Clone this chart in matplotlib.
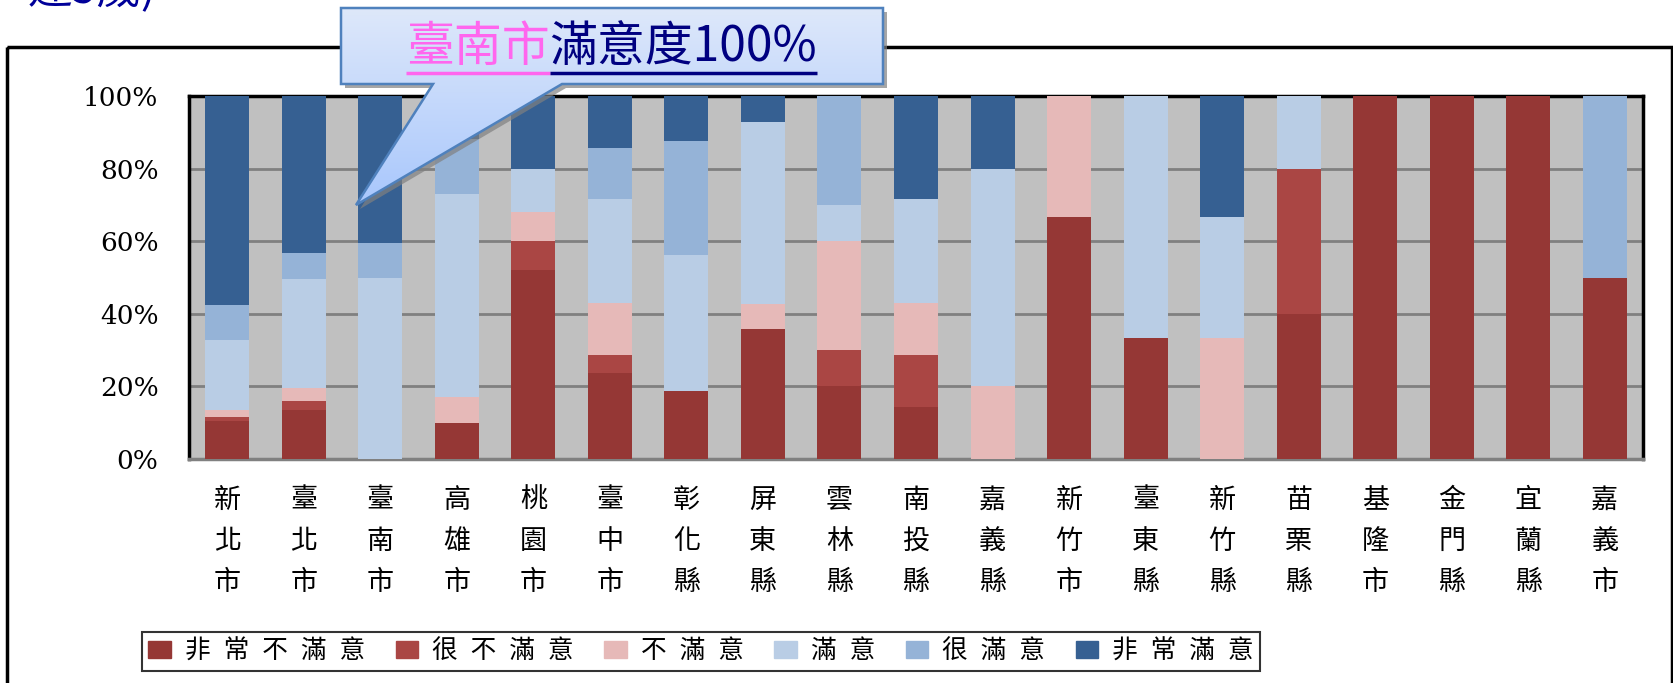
import matplotlib
matplotlib.use('Agg')
from matplotlib import pyplot as plt
from matplotlib.patches import Rectangle, Polygon
import numpy as np

# regions (x axis)
regions = ['新北市', '臺北市', '臺南市', '高雄市', '桃園市', '臺中市', '彰化縣', '屏東縣', '雲林縣',
           '南投縣', '嘉義縣', '新竹市', '臺東縣', '新竹縣', '苗栗縣', '基隆市', '金門縣', '宜蘭縣', '嘉義市']

# percentages per satisfaction level
very_dissatisfied = [10.4, 13.4, 0, 9.9, 52, 23.8, 18.75, 35.7, 20, 14.3, 0, 66.7, 33.3, 0, 40, 100, 100, 100, 50]
quite_dissatisfied = [1.1, 2.5, 0, 0, 8, 4.8, 0, 0, 10, 14.3, 0, 0, 0, 0, 40, 0, 0, 0, 0]
dissatisfied = [1.9, 3.7, 0, 7.1, 8, 14.3, 0, 7.1, 30, 14.3, 20, 33.3, 0, 33.3, 0, 0, 0, 0, 0]
satisfied = [19.3, 30.0, 50, 56.1, 12, 28.6, 37.5, 50, 10, 28.6, 60, 0, 66.7, 33.3, 20, 0, 0, 0, 0]
quite_satisfied = [9.7, 7.2, 9.4, 15, 0, 14.3, 31.25, 0, 30, 0, 0, 0, 0, 0, 0, 0, 0, 0, 50]
very_satisfied = [57.6, 43.2, 40.6, 11.9, 20, 14.3, 12.5, 7.1, 0, 28.6, 20, 0, 0, 33.3, 0, 0, 0, 0, 0]

levels = ['非常不滿意', '很不滿意', '不滿意', '滿意', '很滿意', '非常滿意']
colors = ['#953735', '#AA4644', '#E6B9B8', '#B9CDE5', '#95B3D7', '#366092']
yticks = [0, 20, 40, 60, 80, 100]

callout_hl = '臺南市'
callout_rest = '滿意度100%'

cjk = ['Noto Sans CJK TC', 'DejaVu Sans']

fig = plt.figure(figsize=(16.73, 6.83), dpi=100)
ax = fig.add_axes([189 / 1673, (683 - 459) / 683, (1643 - 189) / 1673, (459 - 96) / 683])

series = [very_dissatisfied, quite_dissatisfied, dissatisfied, satisfied, quite_satisfied, very_satisfied]
x = np.arange(len(regions))
bottom = np.zeros(len(regions))
for vals, c in zip(series, colors):
    vals = np.array(vals, dtype=float)
    ax.bar(x, vals, width=0.575, bottom=bottom, color=c, zorder=3)
    bottom = bottom + vals

ax.set_facecolor('#C0C0C0')
ax.set_xlim(-0.5, len(regions) - 0.5)
ax.set_ylim(0, 100)
ax.set_yticks(yticks)
ax.set_yticklabels(['%d%%' % v for v in yticks], family='DejaVu Serif', fontsize=19)
ax.set_xticks(x)
ax.set_xticklabels(['\n'.join(r) for r in regions], family=cjk, fontsize=19.5, linespacing=1.68, va='top')
ax.tick_params(axis='both', length=0)
ax.tick_params(axis='y', pad=22)
ax.tick_params(axis='x', pad=20)
ax.yaxis.grid(True, color='#808080', linewidth=2, zorder=1)
ax.set_axisbelow(True)
for s in ['left', 'top', 'right']:
    ax.spines[s].set_color('black')
    ax.spines[s].set_linewidth(2.5)
ax.spines['bottom'].set_color('#808080')
ax.spines['bottom'].set_linewidth(2.5)

# legend
handles = [Rectangle((0, 0), 1, 1, color=c) for c in colors]
labels = ['\u2002'.join(l) for l in levels]
leg = fig.legend(handles, labels, loc='upper left', bbox_to_anchor=(142 / 1673, (683 - 632) / 683),
                 bbox_transform=fig.transFigure, ncol=6, prop={'family': cjk, 'size': 18.5},
                 frameon=True, fancybox=False, edgecolor='black', borderpad=0.25, borderaxespad=0,
                 handlelength=0.86, handleheight=0.66, handletextpad=0.55, columnspacing=1.2)
leg.get_frame().set_linewidth(1.5)

# overlay in pixel coordinates for frame and callout
ov = fig.add_axes([0, 0, 1, 1], zorder=5)
ov.axis('off')

ov.add_patch(Rectangle((7, 47), 1665, 700, fill=False, edgecolor='black', linewidth=2.5, zorder=1))

shape = [(341, 8), (883, 8), (883, 84), (562, 84), (356, 205), (433, 84), (341, 84)]
shadow = Polygon([(px + 4, py + 4) for px, py in shape], closed=True, facecolor='#808080',
                 edgecolor='none', alpha=0.7, zorder=2)
ov.add_patch(shadow)
body = Polygon(shape, closed=True, facecolor='none', edgecolor='#4F81BD', linewidth=1.8, zorder=4)
ov.add_patch(body)
top_c = np.array([0.87, 0.91, 0.98])
bot_c = np.array([0.66, 0.78, 0.99])
t = np.linspace(0, 1, 200)[:, None, None]
grad = top_c * (1 - t) + bot_c * t
img = ov.imshow(grad, extent=(341, 883, 205, 8), aspect='auto', origin='upper', zorder=3)
img.set_clip_path(body)

ov.set_xlim(0, 1673)
ov.set_ylim(683, 0)

t1 = ov.text(406, 47, callout_hl, color='#FF66EE', fontsize=34.5, family=cjk, ha='left', va='center', zorder=6)
t2 = ov.annotate(callout_rest, xy=(1, 0.5), xycoords=t1, ha='left', va='center',
                 color='#000080', fontsize=34.5, family=cjk, zorder=6)

# cut-off title line at the very top
fig.text(28 / 1673, (683 - 13) / 683, '達5歲)', color='#000099', fontsize=32, family=cjk,
         ha='left', va='bottom')

fig.canvas.draw()
r = fig.canvas.get_renderer()
inv = ov.transData.inverted()
b1 = t1.get_window_extent(r)
b2 = t2.get_window_extent(r)
xa = inv.transform((b1.x0, 0))[0]
xb = inv.transform((b1.x1, 0))[0]
xc = inv.transform((b2.x1, 0))[0]
ov.plot([xa, xb], [73, 73], color='#FF66EE', linewidth=2.5, zorder=6, solid_capstyle='butt')
ov.plot([xb, xc], [73, 73], color='#000080', linewidth=2.5, zorder=6, solid_capstyle='butt')
ov.set_xlim(0, 1673)
ov.set_ylim(683, 0)

plt.savefig('out.png', dpi=100)
